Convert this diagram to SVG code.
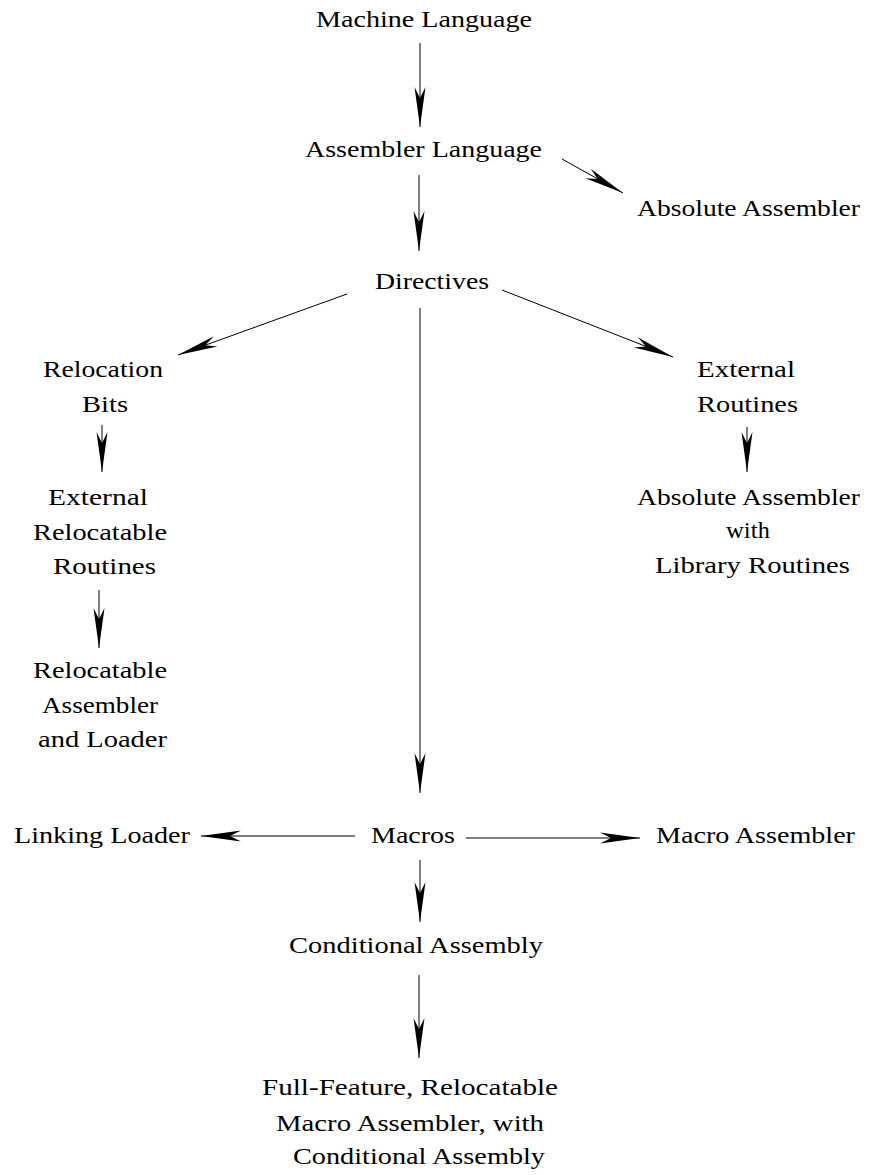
<svg xmlns="http://www.w3.org/2000/svg" width="870" height="1175" viewBox="0 0 870 1175">
<style>
text{font-family:"Liberation Serif","Times New Roman",serif;font-size:23px;fill:#000;text-anchor:middle}
.e{stroke:#000;stroke-width:1;fill:none;marker-end:url(#ah)}
</style>
<defs>
<marker id="ah" markerUnits="userSpaceOnUse" orient="auto" refX="0" refY="0" markerWidth="50" markerHeight="20" viewBox="-45 -10 50 20" overflow="visible">
<path d="M0,0 L-40,-5.5 L-29,0 L-40,5.5 Z" fill="#000"/>
</marker>
</defs>
<rect width="870" height="1175" fill="#fff"/>
<g id="connectors">
<line class="e" x1="420" y1="43" x2="420" y2="127"/>
<line class="e" x1="419" y1="175" x2="419" y2="251"/>
<line class="e" x1="562" y1="159" x2="623" y2="193"/>
<line class="e" x1="347" y1="294" x2="178" y2="355"/>
<line class="e" x1="502" y1="290" x2="673" y2="357"/>
<line class="e" x1="420" y1="308" x2="420" y2="793"/>
<line class="e" x1="102" y1="425" x2="102" y2="472"/>
<line class="e" x1="99" y1="590" x2="99" y2="648"/>
<line class="e" x1="747" y1="427" x2="747" y2="472"/>
<line class="e" x1="355" y1="836" x2="201" y2="836"/>
<line class="e" x1="466" y1="838" x2="640" y2="838"/>
<line class="e" x1="420" y1="860" x2="420" y2="922"/>
<line class="e" x1="419" y1="975" x2="419" y2="1058"/>
</g>
<g id="n-machine"><text x="424" y="27" textLength="216" lengthAdjust="spacingAndGlyphs">Machine Language</text></g>
<g id="n-assembler"><text x="423.5" y="157" textLength="237" lengthAdjust="spacingAndGlyphs">Assembler Language</text></g>
<g id="n-absolute"><text x="748.5" y="216" textLength="223" lengthAdjust="spacingAndGlyphs">Absolute Assembler</text></g>
<g id="n-directives"><text x="432" y="289" textLength="114" lengthAdjust="spacingAndGlyphs">Directives</text></g>
<g id="n-relocation"><text x="103" y="377" textLength="120" lengthAdjust="spacingAndGlyphs">Relocation</text><text x="105" y="412" textLength="46" lengthAdjust="spacingAndGlyphs">Bits</text></g>
<g id="n-extreloc"><text x="98" y="505" textLength="100" lengthAdjust="spacingAndGlyphs">External</text><text x="100" y="540" textLength="134" lengthAdjust="spacingAndGlyphs">Relocatable</text><text x="104.5" y="574" textLength="103" lengthAdjust="spacingAndGlyphs">Routines</text></g>
<g id="n-relasm"><text x="100" y="678" textLength="134" lengthAdjust="spacingAndGlyphs">Relocatable</text><text x="100" y="713" textLength="116" lengthAdjust="spacingAndGlyphs">Assembler</text><text x="102.5" y="747" textLength="129" lengthAdjust="spacingAndGlyphs">and Loader</text></g>
<g id="n-extroutines"><text x="746" y="377" textLength="98" lengthAdjust="spacingAndGlyphs">External</text><text x="747.5" y="412" textLength="101" lengthAdjust="spacingAndGlyphs">Routines</text></g>
<g id="n-abslib"><text x="748.5" y="505" textLength="223" lengthAdjust="spacingAndGlyphs">Absolute Assembler</text><text x="748" y="538" textLength="44" lengthAdjust="spacingAndGlyphs">with</text><text x="752.5" y="573" textLength="195" lengthAdjust="spacingAndGlyphs">Library Routines</text></g>
<g id="n-macros"><text x="413" y="843" textLength="84" lengthAdjust="spacingAndGlyphs">Macros</text></g>
<g id="n-linking"><text x="102" y="843" textLength="176" lengthAdjust="spacingAndGlyphs">Linking Loader</text></g>
<g id="n-macroasm"><text x="755.5" y="843" textLength="199" lengthAdjust="spacingAndGlyphs">Macro Assembler</text></g>
<g id="n-conditional"><text x="416" y="953" textLength="254" lengthAdjust="spacingAndGlyphs">Conditional Assembly</text></g>
<g id="n-full"><text x="410" y="1095" textLength="296" lengthAdjust="spacingAndGlyphs">Full-Feature, Relocatable</text><text x="410" y="1131" textLength="268" lengthAdjust="spacingAndGlyphs">Macro Assembler, with</text><text x="419" y="1164" textLength="252" lengthAdjust="spacingAndGlyphs">Conditional Assembly</text></g>
</svg>
